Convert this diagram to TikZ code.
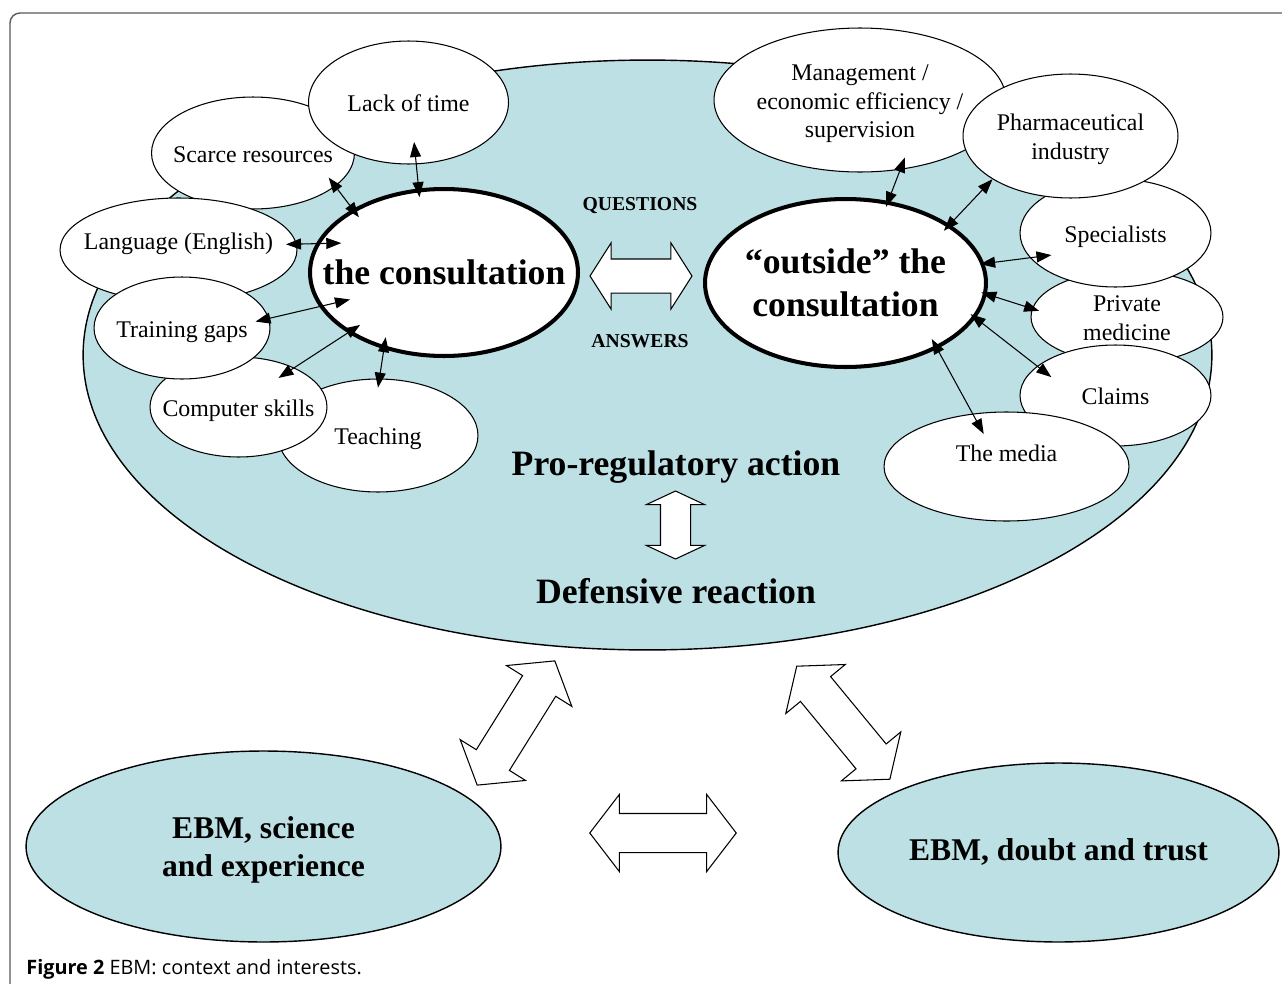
\documentclass[tikz,border=0pt]{standalone}
\usepackage{fontspec}
\setmainfont{Liberation Serif}
\newfontfamily\capfont{Open Sans}
\usetikzlibrary{shapes.geometric,shapes.arrows,arrows.meta,calc}
\definecolor{fieldblue}{RGB}{189,224,228}
\newcommand{\elltext}[1]{\makebox[0pt]{\raisebox{-0.07cm}[\height][\depth]{\begin{tabular}{@{}c@{}}#1\end{tabular}}}}
\tikzset{
  bubble/.style={ellipse, draw, fill=white, line width=0.6pt, inner sep=0pt,
    font=\fontsize{13.6}{16.2}\selectfont},
  core/.style={ellipse, draw, fill=white, line width=2.3pt, inner sep=0pt,
    font=\fontsize{20.3}{24.5}\selectfont\bfseries},
  hub/.style={ellipse, draw, fill=fieldblue, line width=0.8pt, inner sep=0pt,
    font=\fontsize{18}{21.6}\selectfont\bfseries},
  banner/.style={inner sep=0pt, text depth=0pt, font=\fontsize{20.3}{24.5}\selectfont\bfseries},
  tag/.style={inner sep=0pt, text depth=0pt, font=\fontsize{11.2}{13}\selectfont\bfseries},
  fatarrow/.style={double arrow, draw, fill=white, line width=0.6pt, inner xsep=0pt},
  bigarrow/.style={fatarrow, minimum height=2.93cm, minimum width=1.52cm, inner ysep=0.38cm,
    double arrow head extend=0.38cm, double arrow tip angle=105},
  link/.style={<->, >={Triangle[length=0.3cm,width=0.22cm]}, line width=0.6pt}
}
\begin{document}
\begin{tikzpicture}[x=0.02cm, y=-0.02cm]
  \useasboundingbox (0,0) rectangle (1282,984);
  % frame
  \draw[black!65, line width=0.8pt, rounded corners=0.2cm] (10,1000) -- (10,13) -- (1300,13);

  % the field of interests
  \node[ellipse, draw, fill=fieldblue, line width=0.8pt, minimum width=22.58cm, minimum height=11.8cm] (field) at (647.5,355) {};

  % left side: inside the consultation
  \node[bubble, minimum width=4.06cm, minimum height=2.24cm] (scarce) at (253,153) {\elltext{Scarce resources}};
  \node[bubble, minimum width=4.0cm, minimum height=2.46cm] (lack) at (408.5,102.5) {\elltext{Lack of time}};
  \node[bubble, minimum width=4.74cm, minimum height=2.08cm, text depth=0.55cm] (lang) at (178.5,250) {\elltext{Language (English)}};
  \node[bubble, minimum width=4.0cm, minimum height=2.26cm] (teach) at (378,435.5) {\elltext{Teaching}};
  \node[bubble, minimum width=3.54cm, minimum height=2.0cm] (comp) at (238.5,407) {\elltext{Computer skills}};
  \node[bubble, minimum width=3.52cm, minimum height=2.04cm] (train) at (182,328) {\elltext{Training gaps}};

  % right side: outside the consultation
  \node[bubble, minimum width=5.84cm, minimum height=2.88cm] (mgmt) at (860,100) {\elltext{Management /\\economic efficiency /\\supervision}};
  \node[bubble, minimum width=3.84cm, minimum height=1.86cm] (priv) at (1127,317) {\elltext{Private\\medicine}};
  \node[bubble, minimum width=3.82cm, minimum height=2.16cm] (spec) at (1115.5,233) {\elltext{Specialists}};
  \node[bubble, minimum width=4.3cm, minimum height=2.48cm] (pharma) at (1070.5,136) {\elltext{Pharmaceutical\\industry}};
  \node[bubble, minimum width=3.82cm, minimum height=2.02cm] (claims) at (1115.5,395.5) {\elltext{Claims}};
  \node[bubble, minimum width=4.9cm, minimum height=2.18cm, text depth=0.74cm] (media) at (1006.5,466.5) {\elltext{The media}};

  \node[core, minimum width=5.36cm, minimum height=3.34cm] (cons) at (444,272.5) {\elltext{the consultation}};
  \node[core, minimum width=5.62cm, minimum height=3.36cm] (outside) at (845.5,283) {\elltext{``outside'' the\\consultation}};

  \foreach \n/\a/\f/\b/\g in {lack/-82/.64/108/.9, scarce/-18/.86/147/.9, lang/3/.91/164/.83,
      train/5/.84/196/.76, comp/36/.73/212/.87, teach/90/.84/228/.87}
    \draw[link] ($(cons.center)!\g!(cons.\b)$) -- ($(\n.center)!\f!(\n.\a)$);
  \foreach \n/\a/\f/\b/\g in {mgmt/-52/.85/62/.93, pharma/209/1/28/.92, spec/199/.78/8/.97,
      priv/176/.92/-4/.96, claims/164/.76/-14/.95, media/125/.62/-33/.89}
    \draw[link] ($(outside.center)!\g!(outside.\b)$) -- ($(\n.center)!\f!(\n.\a)$);

  \node[tag] (ques) at (640,204) {QUESTIONS};
  \node[tag] (ans) at (640,341) {ANSWERS};
  \node[fatarrow, minimum height=2.04cm, minimum width=1.3cm, inner ysep=0.33cm, double arrow head extend=0.32cm, double arrow tip angle=115] (qa) at (641,276) {};

  \node[banner] (pro) at (676,463) {Pro-regulatory action};
  \node[banner] (def) at (676,591) {Defensive reaction};
  \node[fatarrow, rotate=90, minimum height=1.36cm, minimum width=1.13cm, inner ysep=0.29cm, double arrow head extend=0.28cm, double arrow tip angle=130] (swing) at (675.5,525) {};

  % the two views of EBM
  \node[hub, minimum width=9.5cm, minimum height=3.82cm] (ebmsci) at (263.5,846.5) {\elltext{EBM, science\\and experience}};
  \node[hub, minimum width=8.82cm, minimum height=3.58cm, text depth=0.36cm] (ebmdoubt) at (1058.5,852.5) {\elltext{EBM, doubt and trust}};
  \node[bigarrow, rotate=58] (leftlink) at (516,723) {};
  \node[bigarrow, rotate=-50.5] (rightlink) at (843.3,722.7) {};
  \node[bigarrow] (baselink) at (663,833) {};

  \node[anchor=base west, inner sep=0pt, font=\capfont\fontsize{11.3}{13}\selectfont] (caption) at (26,974) {\textbf{Figure 2} EBM: context and interests.};
\end{tikzpicture}
\end{document}
